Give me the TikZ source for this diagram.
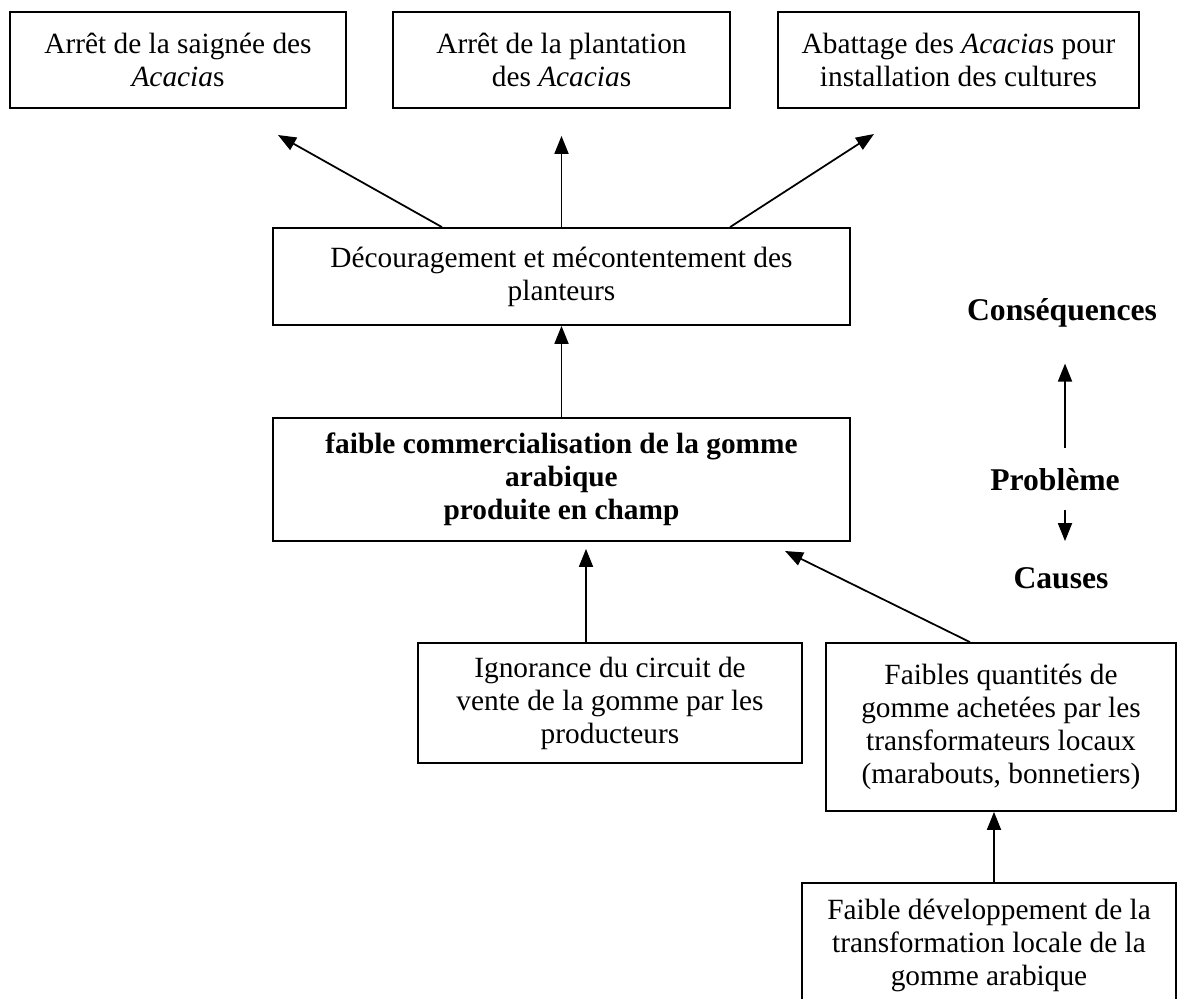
\documentclass[tikz,border=0pt]{standalone}
\usepackage{fontspec}
\setmainfont{Liberation Serif}
\usetikzlibrary{arrows.meta}

\tikzset{
  box/.style={draw, line width=1pt, align=center, inner sep=2pt,
    font=\fontsize{16.7}{18.8}\selectfont},
  arr/.style={line width=1pt, -{Triangle[length=0.36cm, width=0.28cm]}},
  lbl/.style={font=\fontsize{18}{20}\selectfont\bfseries}
}

\begin{document}
\begin{tikzpicture}
    \useasboundingbox (0,0) rectangle (23.56,-19.98);

    % Consequences
    \node[box, minimum width=6.73cm, minimum height=1.92cm] (sai) at (3.56,-1.20)
        {Arrêt de la saignée des\\ \textit{Acacia}s};
    \node[box, minimum width=6.74cm, minimum height=1.92cm] (plant) at (11.23,-1.20)
        {Arrêt de la plantation\\ des \textit{Acacia}s};
    \node[box, minimum width=7.22cm, minimum height=1.92cm] (abat) at (19.17,-1.20)
        {Abattage des \textit{Acacia}s pour\\ installation des cultures};
    \node[box, minimum width=11.54cm, minimum height=1.94cm] (dec) at (11.23,-5.53)
        {Découragement et mécontentement des\\ planteurs};

    % Problem
    \node[box, minimum width=11.54cm, minimum height=2.46cm, font=\fontsize{16.7}{18.8}\selectfont\bfseries]
        (prob) at (11.23,-9.59)
        {faible commercialisation de la gomme\\ arabique\\ produite en champ};

    % Causes
    \node[box, minimum width=7.68cm, minimum height=2.40cm] (ign) at (12.20,-14.06)
        {Ignorance du circuit de\\ vente de la gomme par les\\ producteurs};
    \node[box, minimum width=7.00cm, minimum height=3.36cm] (qte) at (20.02,-14.54)
        {Faibles quantités de\\ gomme achetées par les\\ transformateurs locaux\\ (marabouts, bonnetiers)};
    \node[box, minimum width=7.48cm, minimum height=2.48cm] (dev) at (19.78,-18.90)
        {Faible développement de la\\ transformation locale de la\\ gomme arabique};

    % Legend on the right
    \node[lbl] (lcons) at (21.24,-6.26) {Conséquences};
    \node[lbl] (lprob) at (21.10,-9.60) {Problème};
    \node[lbl] (lcaus) at (21.22,-11.56) {Causes};

    % Free ends of the arrows
    \coordinate (tsai) at (5.56,-2.70);
    \coordinate (tabat) at (17.48,-2.68);
    \coordinate (tprob) at (15.70,-11.02);

    % Arrows
    \draw[arr] ([xshift=-2.39cm]dec.north) -- (tsai);
    \draw[arr] (dec.north) -- ([yshift=-0.54cm]plant.south);
    \draw[arr] ([xshift=3.37cm]dec.north) -- (tabat);
    \draw[arr] (prob.north) -- (dec.south);
    \draw[arr] ([xshift=-0.48cm]ign.north) -- ([xshift=-0.48cm,yshift=-0.14cm]ign.north |- prob.south);
    \draw[arr] ([xshift=-0.62cm]qte.north) -- (tprob);
    \draw[arr] ([xshift=0.10cm]dev.north) -- ([xshift=0.10cm]dev.north |- qte.south);

    \draw[arr, shorten <=0.30cm, shorten >=0.60cm] ([xshift=0.2cm]lprob.north) -- ([xshift=0.2cm]lprob.north |- lcons.south);
    \draw[arr, shorten <=0.25cm, shorten >=0.40cm] ([xshift=0.2cm]lprob.south) -- ([xshift=0.2cm]lprob.south |- lcaus.north);
\end{tikzpicture}
\end{document}
